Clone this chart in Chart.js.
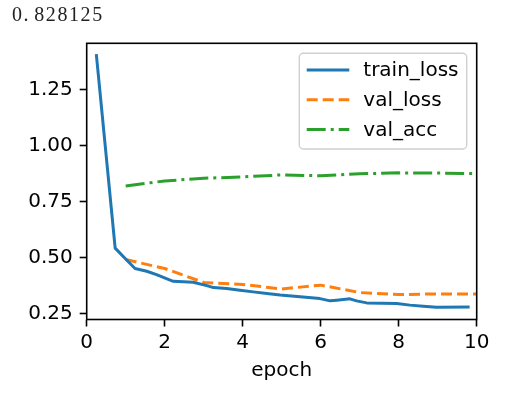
<!DOCTYPE html>
<html>
<head>
<meta charset="utf-8">
<script src="https://cdn.jsdelivr.net/npm/chart.js@4/dist/chart.umd.min.js"></script>
<style>
  html, body { margin: 0; padding: 0; background: #fff; }
  #wrap { position: relative; width: 513px; height: 397px; }
  #score {
    position: absolute; left: 12px; top: 3px;
    font: 20px "Liberation Serif", "DejaVu Serif", serif;
    letter-spacing: 1.6px; color: #222;
  }
  #score .dot { margin-right: 4px; }
  #plot { position: absolute; left: 0; top: 0; }
</style>
</head>
<body>
<div id="wrap">
  <canvas id="plot" width="513" height="397"></canvas>
  <div id="score">0<span class="dot">.</span>828125</div>
</div>
<script>
// values
const trainEpoch = [0.25, 0.73, 1.03, 1.24, 1.54, 1.79, 2.14, 2.22, 2.73, 3.08, 3.25, 3.59, 3.93, 4.27, 4.62, 4.96, 5.47, 5.98, 6.24, 6.41, 6.75, 6.92, 7.18, 7.95, 8.29, 8.63, 8.97, 9.78];
const trainLoss = [1.40, 0.543, 0.489, 0.452, 0.440, 0.425, 0.400, 0.395, 0.391, 0.376, 0.367, 0.363, 0.355, 0.348, 0.341, 0.334, 0.326, 0.318, 0.308, 0.311, 0.317, 0.308, 0.299, 0.296, 0.289, 0.284, 0.280, 0.281];
const valEpoch = [1, 2, 3, 4, 5, 6, 7, 8, 9, 10];
const valLoss = [0.492, 0.452, 0.390, 0.381, 0.361, 0.378, 0.345, 0.336, 0.339, 0.339];
const valAcc = [0.820, 0.842, 0.854, 0.860, 0.869, 0.865, 0.874, 0.878, 0.877, 0.875];
const xTicks = [0, 2, 4, 6, 8, 10];
const yTicks = [0.25, 0.50, 0.75, 1.00, 1.25];

const FONT = { family: "DejaVu Sans", size: 20 };
const pts = (xs, ys) => xs.map((x, i) => ({ x: x, y: ys[i] }));

// box around the axes + legend frame like matplotlib
const frame = {
  id: "frame",
  afterDatasetsDraw(chart) {
    const { ctx, chartArea: a } = chart;
    ctx.save();
    ctx.strokeStyle = "#000";
    ctx.lineWidth = 1.6;
    ctx.strokeRect(a.left, a.top, a.right - a.left, a.bottom - a.top);

    // legend
    const bx = a.right - 177.4, by = a.top + 10, bw = 167.4, bh = 95.7;
    ctx.beginPath();
    ctx.roundRect(bx, by, bw, bh, 4);
    ctx.fillStyle = "rgba(255,255,255,0.8)";
    ctx.fill();
    ctx.strokeStyle = "#d0d0d0";
    ctx.lineWidth = 1.4;
    ctx.stroke();
    ctx.font = "20px 'DejaVu Sans'";
    ctx.textBaseline = "middle";
    ctx.fillStyle = "#000";
    chart.data.datasets.forEach((ds, i) => {
      const y = by + 16.7 + i * 29.7;
      ctx.beginPath();
      ctx.setLineDash(ds.borderDash || []);
      ctx.strokeStyle = ds.borderColor;
      ctx.lineWidth = ds.borderWidth;
      ctx.lineCap = "butt";
      ctx.moveTo(bx + 7.4, y);
      ctx.lineTo(bx + 50, y);
      ctx.stroke();
      ctx.setLineDash([]);
      ctx.fillText(ds.label, bx + 64, y + 1);
    });
    ctx.restore();
  }
};

new Chart(document.getElementById("plot"), {
  type: "line",
  data: {
    datasets: [{
      label: "train_loss",
      data: pts(trainEpoch, trainLoss),
      borderColor: "#1f77b4",
      borderWidth: 3,
      borderCapStyle: "square"
    }, {
      label: "val_loss",
      data: pts(valEpoch, valLoss),
      borderColor: "#ff7f0e",
      borderWidth: 3,
      borderDash: [11, 5]
    }, {
      label: "val_acc",
      data: pts(valEpoch, valAcc),
      borderColor: "#2ca02c",
      borderWidth: 3,
      borderDash: [19, 5, 3, 5]
    }]
  },
  options: {
    responsive: false,
    animation: false,
    layout: { padding: { left: 0, right: 36.3, top: 43.3, bottom: 0 } },
    elements: {
      point: { radius: 0 },
      line: { tension: 0, fill: false, borderJoinStyle: "round" }
    },
    plugins: { legend: { display: false }, tooltip: { enabled: false } },
    scales: {
      x: {
        type: "linear",
        min: 0, max: 10,
        afterBuildTicks: s => { s.ticks = xTicks.map(v => ({ value: v })); },
        afterFit: s => { s.height = 77.5; },
        border: { display: false },
        grid: { drawOnChartArea: false, drawTicks: true, tickLength: 7, tickWidth: 1.6, tickColor: "#000" },
        ticks: { font: FONT, color: "#000", padding: 4, maxRotation: 0 },
        title: { display: true, text: "epoch", font: FONT, color: "#000", padding: { top: 0, bottom: 14 } }
      },
      y: {
        type: "linear",
        min: 0.225, max: 1.455,
        afterBuildTicks: s => { s.ticks = yTicks.map(v => ({ value: v })); },
        afterFit: s => { s.width = 86.7; },
        border: { display: false },
        grid: { drawOnChartArea: false, drawTicks: true, tickLength: 7, tickWidth: 1.6, tickColor: "#000" },
        ticks: { font: FONT, color: "#000", padding: 7, callback: v => v.toFixed(2) }
      }
    }
  },
  plugins: [frame]
});
</script>
</body>
</html>
